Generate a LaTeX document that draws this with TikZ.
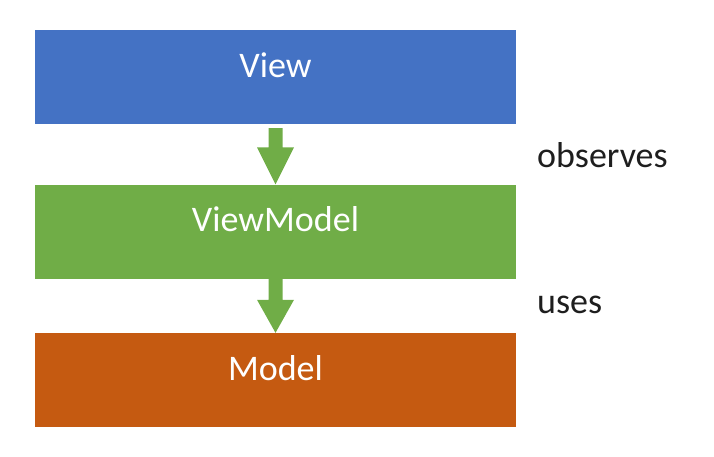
\documentclass[tikz,border=0pt]{standalone}
\usepackage{fontspec}
\setmainfont{Carlito}
\usetikzlibrary{calc}
\definecolor{layerblue}{HTML}{4472C4}
\definecolor{layergreen}{HTML}{70AD47}
\definecolor{layerorange}{HTML}{C55A11}
\definecolor{labelgray}{HTML}{1E1E1E}
\begin{document}
\begin{tikzpicture}[x=1pt,y=-1pt,
  layer/.style={rectangle, draw=none, minimum width=481pt, minimum height=94pt,
    inner sep=0pt, text=white, text height=0pt, text depth=0pt,
    font=\fontsize{36}{40}\selectfont},
  note/.style={anchor=base west, inner sep=0pt, text=labelgray,
    font=\fontsize{36}{40}\selectfont},
  blockarrow/.style={fill=layergreen, draw=none}]
  \useasboundingbox (0,0) rectangle (714,456);

  % the three layers
  \node[layer, fill=layerblue]   (view)  at (275.5,77)  {View};
  \node[layer, fill=layergreen]  (vm)    at (275.5,231.5) {ViewModel};
  \node[layer, fill=layerorange] (model) at (275.5,380) {Model};

  % block arrows between the layers
  \fill[blockarrow] ($(view.south)+(-7,4)$) -- ($(vm.north)+(-7,-37)$)
    -- ($(vm.north)+(-18.5,-37)$) -- (vm.north) -- ($(vm.north)+(18.5,-37)$)
    -- ($(vm.north)+(7,-37)$) -- ($(view.south)+(7,4)$) -- cycle;
  \fill[blockarrow] ($(vm.south)+(-7,0)$) -- ($(model.north)+(-7,-33)$)
    -- ($(model.north)+(-18.5,-33)$) -- (model.north) -- ($(model.north)+(18.5,-33)$)
    -- ($(model.north)+(7,-33)$) -- ($(vm.south)+(7,0)$) -- cycle;

  % relation labels
  \node[note] (observes) at (537,167) {observes};
  \node[note] (uses)     at (537,313) {uses};
\end{tikzpicture}
\end{document}
